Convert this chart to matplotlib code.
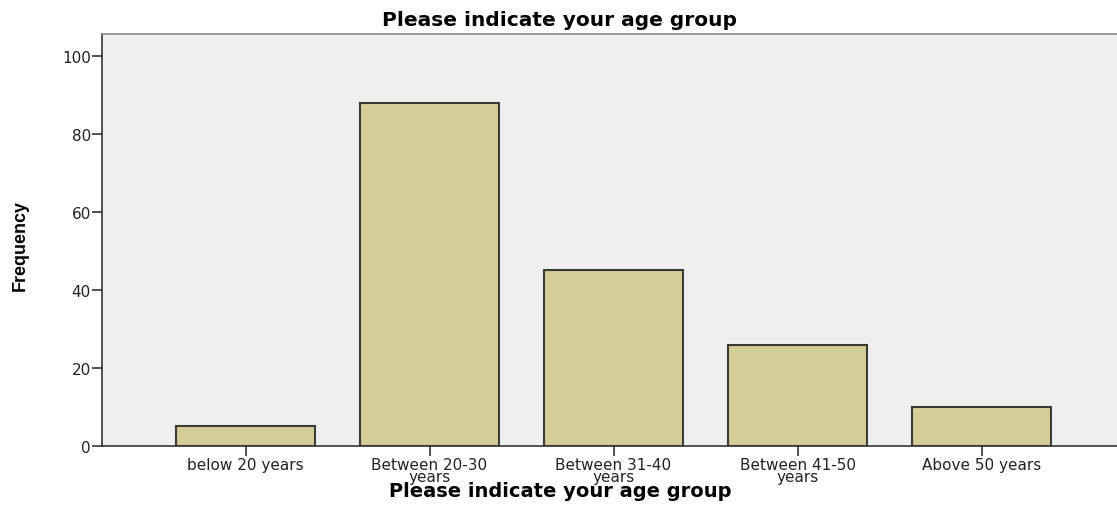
import matplotlib
matplotlib.use("Agg")
import matplotlib.pyplot as plt

# data
categories = ["below 20 years", "Between 20-30\nyears", "Between 31-40\nyears",
              "Between 41-50\nyears", "Above 50 years"]
frequency = [5, 88, 45, 26, 10]
y_ticks = [0, 20, 40, 60, 80, 100]

plt.rcParams['font.family'] = ['DejaVu Sans']

fig = plt.figure(figsize=(11.17, 5.06), dpi=100)
ax = fig.add_axes([0.0913, 0.1166, 0.9087, 0.8142])
ax.set_facecolor("#efefef")

x = list(range(len(categories)))
ax.bar(x, frequency, width=0.755, color="#d3ce98", edgecolor="#3a3a32", linewidth=1.5, zorder=2)

ax.set_xlim(-0.78, 4.736)
ax.set_ylim(0, 105.6)
ax.set_xticks(x)
ax.set_xticklabels(categories, fontsize=11, color="#222222", linespacing=0.72)
ax.set_yticks(y_ticks)
ax.set_yticklabels([str(v) for v in y_ticks], fontsize=11, color="#222222")
ax.tick_params(axis="both", direction="out", length=7, width=1.2, color="#333333", pad=1)

for side in ["left", "bottom"]:
    ax.spines[side].set_color("#333333")
    ax.spines[side].set_linewidth(1.2)
ax.spines["top"].set_color("#888888")
ax.spines["top"].set_linewidth(1.2)
ax.spines["right"].set_visible(False)

fig.text(0.5013, 0.96, "Please indicate your age group", ha="center", va="center",
         fontsize=14.5, fontweight="bold")
fig.text(0.5013, 0.028, "Please indicate your age group", ha="center", va="center",
         fontsize=14, fontweight="bold")
fig.text(0.018, 0.515, "Frequency", ha="center", va="center", rotation=90,
         fontsize=13, fontweight="bold",
         family=["Liberation Sans Narrow", "Liberation Sans", "DejaVu Sans"])

fig.savefig("out.png", dpi=100)
